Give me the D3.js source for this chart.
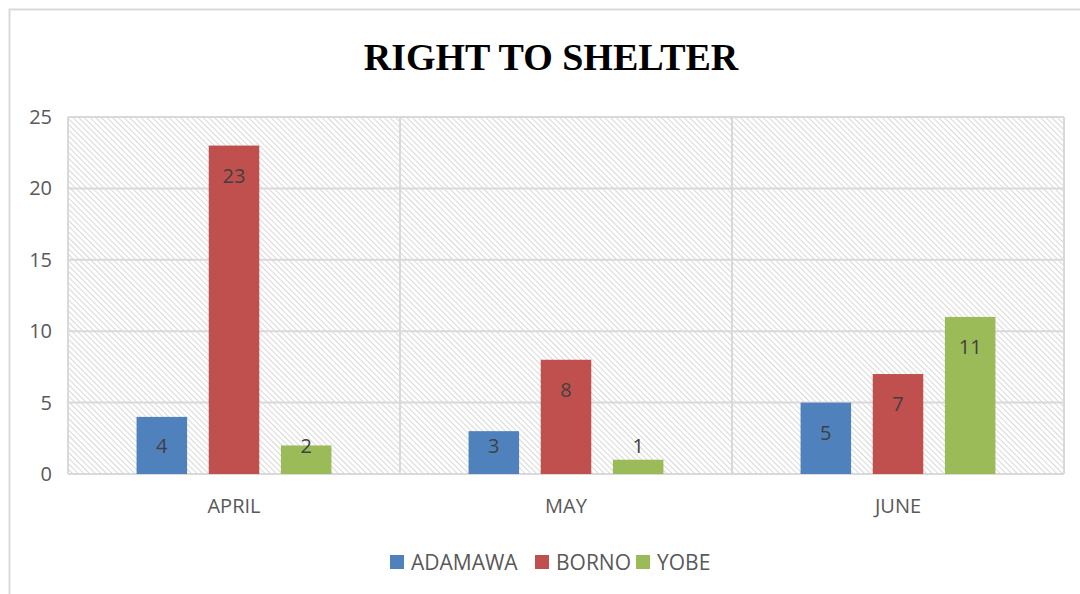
<!DOCTYPE html>
<html>
<head>
<meta charset="utf-8">
<script src="https://cdn.jsdelivr.net/npm/d3@7"></script>
<style>
  body { margin: 0; background: #fff; }
  text { font-family: "Open Sans", "Liberation Sans", sans-serif; }
</style>
</head>
<body>
<svg width="1080" height="594"></svg>
<script>
const months = ['APRIL', 'MAY', 'JUNE'];
const seriesNames = ['ADAMAWA', 'BORNO', 'YOBE'];
const adamawa = [4, 3, 5];
const borno = [23, 8, 7];
const yobe = [2, 1, 11];
const yTicks = [0, 5, 10, 15, 20, 25];
const colors = ['#4f81bd', '#c0504d', '#9bbb59'];

const values = [adamawa, borno, yobe];

const svg = d3.select('svg');

// hatch pattern for plot background
const defs = svg.append('defs');
const pat = defs.append('pattern')
  .attr('id', 'hatch')
  .attr('patternUnits', 'userSpaceOnUse')
  .attr('width', 4).attr('height', 4)
  .attr('patternTransform', 'rotate(-45)');
pat.append('line')
  .attr('x1', 0).attr('y1', 0).attr('x2', 0).attr('y2', 4)
  .attr('stroke', '#cbcbcb').attr('stroke-width', 1.5);

// outer border (top and left only visible)
svg.append('path')
  .attr('d', 'M9.5,594 V9.5 H1080')
  .attr('fill', 'none').attr('stroke', '#d9d9d9').attr('stroke-width', 2);

const pLeft = 68, pRight = 1064, pTop = 117, pBottom = 474;

const x = d3.scaleBand().domain(months).range([pLeft, pRight]);
const x1 = d3.scaleBand().domain(seriesNames).range([0, x.bandwidth()])
  .paddingInner(0.3).paddingOuter(0.95);
const y = d3.scaleLinear().domain([0, 25]).range([pBottom, pTop]);

svg.append('rect')
  .attr('x', pLeft).attr('y', pTop)
  .attr('width', pRight - pLeft).attr('height', pBottom - pTop)
  .attr('fill', 'url(#hatch)');

// horizontal gridlines
svg.append('g').selectAll('line')
  .data(yTicks)
  .enter().append('line')
  .attr('x1', pLeft).attr('x2', pRight)
  .attr('y1', d => y(d)).attr('y2', d => y(d))
  .attr('stroke', '#d9d9d9').attr('stroke-width', 2);

// vertical gridlines at category boundaries
const bounds = months.map(m => x(m)).concat([pRight]);
svg.append('g').selectAll('line')
  .data(bounds)
  .enter().append('line')
  .attr('x1', d => d).attr('x2', d => d)
  .attr('y1', pTop).attr('y2', pBottom)
  .attr('stroke', '#d9d9d9').attr('stroke-width', 2);

// y axis labels
svg.append('g').selectAll('text')
  .data(yTicks)
  .enter().append('text')
  .attr('x', 52).attr('y', d => y(d) + 7)
  .attr('text-anchor', 'end')
  .attr('font-size', 20).attr('fill', '#595959')
  .text(d => d);

// x axis labels
svg.append('g').selectAll('text')
  .data(months)
  .enter().append('text')
  .attr('x', d => x(d) + x.bandwidth() / 2).attr('y', 513)
  .attr('text-anchor', 'middle')
  .attr('font-size', 20).attr('fill', '#595959')
  .text(d => d);

// bars
const rows = [];
months.forEach((m, i) => {
  seriesNames.forEach((s, j) => {
    rows.push({ month: m, series: s, value: values[j][i], color: colors[j] });
  });
});

svg.append('g').selectAll('rect')
  .data(rows)
  .enter().append('rect')
  .attr('x', d => x(d.month) + x1(d.series))
  .attr('y', d => y(d.value))
  .attr('width', x1.bandwidth())
  .attr('height', d => pBottom - y(d.value))
  .attr('fill', d => d.color);

// value labels, near the top of the bar but never below a fixed line
svg.append('g').selectAll('text')
  .data(rows)
  .enter().append('text')
  .attr('x', d => x(d.month) + x1(d.series) + x1.bandwidth() / 2)
  .attr('y', d => Math.min(y(d.value) + 30, pBottom - 28) + 7)
  .attr('text-anchor', 'middle')
  .attr('font-size', 20).attr('fill', '#404040')
  .text(d => d.value);

// title
svg.append('text')
  .attr('x', 551).attr('y', 70)
  .attr('text-anchor', 'middle')
  .style('font-family', '"Liberation Serif", "Times New Roman", serif')
  .attr('font-size', 38).attr('font-weight', 'bold').attr('fill', '#000')
  .text('RIGHT TO SHELTER');

// legend
const legendX = [390, 535, 636];
const lg = svg.append('g').selectAll('g')
  .data(seriesNames)
  .enter().append('g')
  .attr('transform', (d, i) => `translate(${legendX[i]},555)`);
lg.append('rect')
  .attr('width', 14).attr('height', 14)
  .attr('fill', (d, i) => colors[i]);
lg.append('text')
  .attr('x', 21).attr('y', 15)
  .attr('font-size', 21).attr('fill', '#595959')
  .text(d => d);
</script>
</body>
</html>
